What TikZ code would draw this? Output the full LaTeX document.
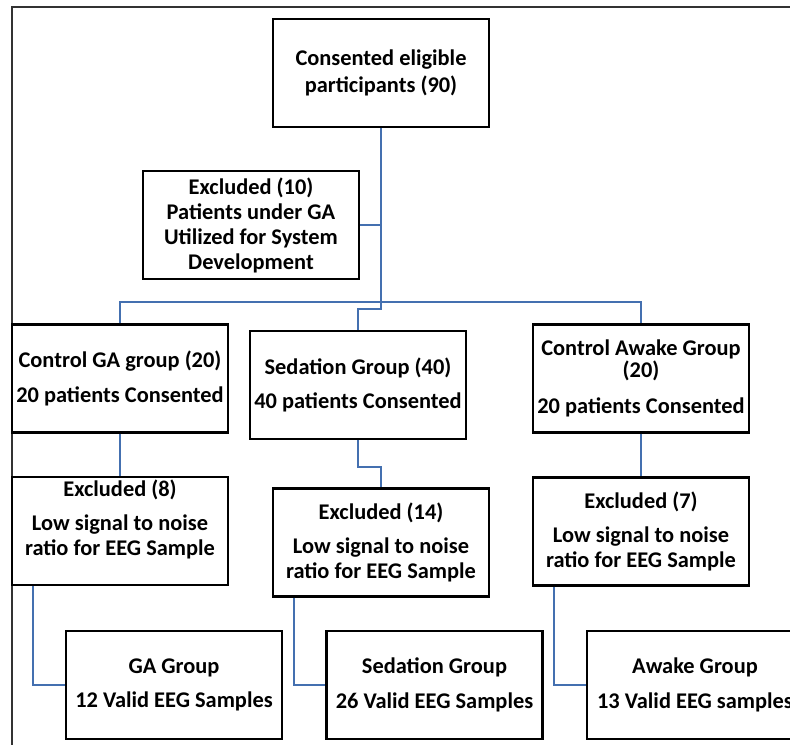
\documentclass[tikz,border=0pt]{standalone}
\usepackage{fontspec}
\setmainfont{Carlito}
\usetikzlibrary{calc}

\definecolor{linkblue}{RGB}{68,112,176}
\newcommand{\groupfont}{\bfseries\fontsize{16.8}{18.75}\selectfont}

\begin{document}
\begin{tikzpicture}[x=0.75pt,y=-0.75pt,
box/.style={draw=black,line width=1.8pt,minimum width=162pt,minimum height=81pt,
  inner sep=0pt,align=center,font=\groupfont},
link/.style={draw=linkblue,line width=1.5pt},
frame/.style={draw=black!80,line width=1pt}]

  \useasboundingbox (0,0) rectangle (790,744);
  % \draw (0, 0) grid (790, 744);

  % outer frame (cut at the right and bottom)
  \draw[frame] (12,760) -- (12,7) -- (810,7);

  % enrolment
  \node[box] (top)  at (381,73)  {Consented eligible\\[1pt]participants (90)};
  \node[box] (ex10) at (251,225) {Excluded (10)\\Patients under GA\\Utilized for System\\Development};

  % groups
  \node[box] (ctlga) at (120,378.5) {Control GA group (20)\\[7pt]20 patients Consented};
  \node[box] (sed)   at (358,385)   {Sedation Group (40)\\[7pt]40 patients Consented};
  \node[box] (ctlaw) at (641,378.5) {Control Awake Group\\[-2pt](20)\\[8pt]20 patients Consented};

  % exclusions
  \node[box] (exga)  at (120,531)   {Excluded (8)\\[7pt]Low signal to noise\\ratio for EEG Sample\\[1pt]\mbox{}};
  \node[box] (exsed) at (381,542.5) {Excluded (14)\\[7pt]Low signal to noise\\ratio for EEG Sample};
  \node[box] (exaw)  at (641,531.5) {Excluded (7)\\[7pt]Low signal to noise\\ratio for EEG Sample};

  % valid samples
  \node[box] (ga)   at (174,685)   {GA Group\\[7pt]12 Valid EEG Samples};
  \node[box] (sedg) at (434.5,685) {Sedation Group\\[7pt]26 Valid EEG Samples};
  \node[box] (awg)  at (695,685)   {Awake Group\\[7pt]13 Valid EEG samples};

  \coordinate (bus)  at (381,302);
  \coordinate (step) at (381,309);

  % connectors
  \draw[link] (top.south) -- (step) -| (sed.north);
  \draw[link] (ex10.east) -- (ex10.east -| top.south);
  \draw[link] (ctlga.north) |- (bus) -| (ctlaw.north);
  \draw[link] (ctlga) -- (exga);
  \draw[link] (sed.south) -- ++(0,27) -| (exsed.north);
  \draw[link] (ctlaw) -- (exaw);
  \draw[link] ([xshift=16.5pt]exga.south west)  |- (ga.west);
  \draw[link] ([xshift=16.5pt]exsed.south west) |- (sedg.west);
  \draw[link] ([xshift=16.5pt]exaw.south west)  |- (awg.west);
\end{tikzpicture}
\end{document}
